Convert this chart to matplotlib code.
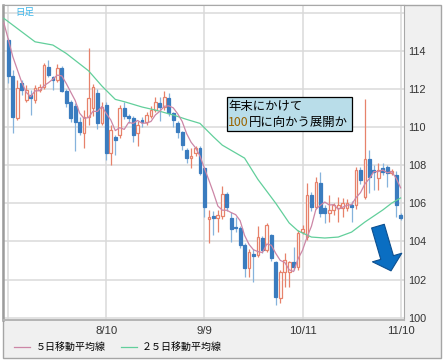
import numpy as np
import matplotlib.pyplot as plt
import matplotlib.patches as mpatches

plt.rcParams['font.family'] = ['Liberation Sans', 'Noto Sans CJK JP']

OUTPUT_IMAGE = "out.png"

# Daily candles, one per trading day (index 0 .. 88)
opens = [114.56, 112.67, 110.47, 112.30, 111.42, 111.68, 111.42, 111.94, 112.09, 113.14,
         112.62, 112.46, 113.09, 111.89, 111.31, 111.10, 110.26, 109.69, 110.52, 111.00,
         111.78, 110.21, 111.15, 108.64, 109.48, 109.58, 111.00, 110.58, 110.47, 109.69,
         110.37, 110.26, 110.58, 110.89, 111.26, 111.05, 111.52, 110.73, 110.21, 109.74,
         108.79, 108.37, 108.64, 108.90, 107.85, 105.18, 105.33, 105.23, 105.33, 106.48,
         105.23, 104.76, 104.70, 103.81, 102.61, 103.34, 103.29, 104.18, 103.55, 104.34,
         102.92, 101.03, 102.40, 102.40, 102.92, 102.66, 104.49, 104.23, 106.43, 105.81,
         107.06, 105.75, 105.49, 105.65, 105.75, 105.75, 105.75, 105.91, 105.91, 107.75,
         106.33, 108.32, 107.75, 107.33, 107.85, 107.90, 107.59, 107.48, 105.39]
highs = [114.67, 112.98, 112.46, 112.46, 112.20, 111.94, 112.20, 112.25, 113.36, 113.51,
         112.67, 113.30, 113.20, 111.99, 111.42, 111.26, 110.52, 110.89, 114.14, 112.25,
         112.00, 111.30, 111.30, 110.10, 109.60, 111.15, 111.30, 110.70, 110.60, 110.30,
         110.52, 110.80, 111.10, 111.57, 111.60, 111.89, 111.80, 110.80, 110.30, 109.80,
         108.90, 108.90, 109.00, 109.00, 107.90, 105.65, 105.60, 105.65, 106.90, 106.60,
         105.54, 105.28, 104.80, 103.90, 103.60, 103.60, 104.80, 104.30, 104.97, 104.40,
         103.00, 102.50, 103.40, 103.00, 103.70, 104.60, 104.86, 107.06, 106.60, 107.38,
         107.64, 105.90, 106.43, 106.00, 106.33, 106.30, 106.20, 106.10, 107.90, 107.90,
         111.47, 108.79, 108.01, 108.11, 108.10, 108.00, 107.80, 107.70, 105.50]
lows = [112.30, 109.69, 110.37, 111.68, 111.31, 110.63, 111.26, 111.84, 111.99, 112.62,
        111.94, 112.35, 111.84, 111.05, 110.26, 108.75, 109.60, 108.90, 110.10, 110.60,
        109.90, 110.10, 108.27, 108.01, 108.53, 109.40, 110.40, 110.20, 109.20, 109.00,
        110.00, 110.10, 110.50, 110.80, 110.30, 110.90, 110.60, 110.00, 109.40, 108.80,
        108.10, 107.85, 108.50, 107.50, 105.28, 103.92, 104.34, 104.49, 105.20, 105.60,
        103.97, 104.50, 103.66, 102.13, 102.13, 101.87, 103.20, 103.40, 103.45, 103.00,
        100.67, 100.77, 101.60, 101.60, 102.50, 102.50, 104.40, 104.10, 105.60, 105.70,
        105.28, 104.97, 105.02, 105.40, 105.02, 105.28, 105.60, 105.00, 105.70, 107.00,
        106.20, 106.54, 106.70, 106.70, 107.50, 106.86, 107.50, 105.30, 105.10]
closes = [112.67, 110.52, 112.04, 111.94, 111.94, 111.52, 112.04, 112.09, 113.25, 112.72,
          112.46, 113.09, 111.89, 111.26, 110.47, 110.26, 109.74, 110.52, 111.52, 112.09,
          110.21, 111.05, 108.64, 109.84, 109.32, 111.00, 110.58, 110.47, 109.58, 110.10,
          110.26, 110.63, 110.89, 111.31, 111.05, 111.57, 110.73, 110.37, 109.74, 109.06,
          108.37, 108.48, 108.90, 107.59, 105.81, 105.28, 105.23, 105.39, 106.48, 105.81,
          104.65, 104.70, 103.81, 102.61, 103.45, 103.24, 104.23, 103.55, 104.86, 103.13,
          101.09, 102.40, 103.03, 102.92, 102.66, 104.44, 104.65, 106.43, 105.81, 107.11,
          105.49, 105.49, 105.65, 105.91, 105.91, 106.01, 106.01, 105.81, 107.75, 107.22,
          108.32, 107.38, 107.64, 107.75, 107.64, 107.59, 107.69, 105.91, 105.23]
# closes of the five days before the first candle (needed for the 5-day MA)
prior_closes = [117.0, 115.0, 115.4, 115.3, 114.6]

# 25-day MA at these candle positions
ma25_idx = [-1, 6, 10, 13, 18, 21, 24, 26, 30, 33, 37, 40, 43, 46, 48, 53, 56, 60,
            63, 65, 68, 71, 74, 77, 80, 84, 86, 88]
ma25_val = [115.70, 114.47, 114.30, 113.86, 112.95, 112.15, 111.45, 111.33, 111.05,
            110.89, 110.63, 110.40, 110.19, 109.49, 109.05, 108.37, 107.25, 106.00,
            104.97, 104.55, 104.23, 104.18, 104.23, 104.49, 105.02, 105.65, 106.01, 106.28]

date_pos = [0, 22, 44, 66, 88]
date_labels = ["", "8/10", "9/9", "10/11", "11/10"]
price_ticks = [100, 102, 104, 106, 108, 110, 112, 114, 116]
price_labels = ["100", "102", "104", "106", "108", "110", "112", "114", ""]

legend_labels = ["５日移動平均線", "２５日移動平均線"]
note_line1 = "年末にかけて"
note_num = "100"
note_rest = "円に向かう展開か"

# colours
BLUE_BODY = "#3a7cbf"
BLUE_WICK = "#86b3dc"
RED_EDGE = "#e7826b"
MA5_COLOR = "#cc86a6"
MA25_COLOR = "#62cf9b"

fig = plt.figure(figsize=(4.48, 3.63), dpi=100)

# grey frame holding price scale, dates and legend
frame = mpatches.Rectangle((3 / 448, 1 - 358 / 363), 438 / 448, 353 / 363,
                           transform=fig.transFigure, facecolor="#f0f0f0",
                           edgecolor="#a5a5a5", lw=1.0, zorder=-1)
fig.patches.append(frame)

ax = fig.add_axes([3 / 448, 1 - 320 / 363, 401 / 448, 315 / 363])
ax.set_facecolor("white")

o = np.array(opens)
h = np.array(highs)
l = np.array(lows)
c = np.array(closes)
x = np.arange(len(c))
up = c >= o

# wicks
wick_colors = [RED_EDGE if u else BLUE_WICK for u in up]
ax.vlines(x, l, h, colors=wick_colors, lw=0.9, zorder=2)

# bodies: red hollow for up days, solid blue for down days
body_h = np.maximum(np.abs(c - o), 0.06)
body_b = np.minimum(o, c)
face = ["white" if u else BLUE_BODY for u in up]
edge = [RED_EDGE if u else BLUE_BODY for u in up]
ax.bar(x, body_h, bottom=body_b, width=0.62, color=face, edgecolor=edge,
       lw=0.9, zorder=3)

# moving averages
all_closes = np.array(prior_closes + closes)
ma5 = np.convolve(all_closes, np.ones(5) / 5, mode="valid")
ma5_x = np.arange(-1, len(c))
ax.plot(ma25_idx, ma25_val, color=MA25_COLOR, lw=0.9, zorder=4, label=legend_labels[1])
ax.plot(ma5_x, ma5, color=MA5_COLOR, lw=0.9, zorder=4, label=legend_labels[0])

ax.set_xlim(-1.19, 88.76)
ax.set_ylim(99.88, 116.4)

ax.set_xticks(date_pos)
ax.set_xticklabels(date_labels)
ax.set_yticks(price_ticks)
ax.set_yticklabels(price_labels)
ax.yaxis.tick_right()
ax.tick_params(axis="y", length=0, pad=3, labelsize=7.8, labelcolor="#333333")
ax.tick_params(axis="x", length=0, pad=4, labelsize=8.2, labelcolor="#333333")
ax.grid(True, color="#dadada", lw=1.1, zorder=0)
ax.set_axisbelow(True)

ax.spines["left"].set_color("#9c9c9c")
ax.spines["left"].set_linewidth(1.8)
ax.spines["bottom"].set_color("#b4b4b4")
ax.spines["bottom"].set_linewidth(1.4)
ax.spines["right"].set_color("#a8a8a8")
ax.spines["right"].set_linewidth(0.8)
ax.spines["top"].set_color("#a8a8a8")
ax.spines["top"].set_linewidth(0.8)

# chart caption at the top left
ax.text(0.03, 0.976, "日足", transform=ax.transAxes, color="#3db6ea", fontsize=6.8,
        va="center", ha="left", family=["Noto Sans CJK JP"], zorder=6)

# comment box
box = mpatches.Rectangle((0.5586, 0.600), 0.3115, 0.108, transform=ax.transAxes,
                         facecolor="#b9dde9", edgecolor="black", lw=0.9, zorder=5)
ax.add_patch(box)
ax.text(0.5615, 0.679, note_line1, transform=ax.transAxes, fontsize=8.9,
        va="center", ha="left", family=["Noto Sans CJK JP"], zorder=6)
num = ax.text(0.5615, 0.628, note_num, transform=ax.transAxes, fontsize=8.9,
              color="#9a6400", va="center", ha="left",
              family=["Noto Sans CJK JP"], zorder=6)
ax.annotate(note_rest, xy=(1, 0.5), xycoords=num, fontsize=8.9, va="center",
            ha="left", family=["Noto Sans CJK JP"], zorder=6)

# big blue arrow pointing down
arrow = mpatches.FancyArrowPatch((0.935, 0.298), (0.9676, 0.156), transform=ax.transAxes,
                                 arrowstyle="simple,head_width=2.2,head_length=1.0,tail_width=0.95",
                                 mutation_scale=10, facecolor="#0a6ec2",
                                 edgecolor="#0d4f8f", lw=0.8, shrinkA=0, shrinkB=0,
                                 zorder=6, clip_on=False)
ax.add_patch(arrow)

# legend under the dates
handles, labels = ax.get_legend_handles_labels()
fig.legend(handles[::-1], labels[::-1], loc="center left",
           bbox_to_anchor=(14 / 448, 1 - 347 / 363), ncol=2, frameon=False,
           handlelength=1.6, handletextpad=0.55, columnspacing=1.5,
           borderaxespad=0, borderpad=0, prop={"family": ["Noto Sans CJK JP"], "size": 7.2})

fig.savefig(OUTPUT_IMAGE, dpi=100)
plt.close(fig)
